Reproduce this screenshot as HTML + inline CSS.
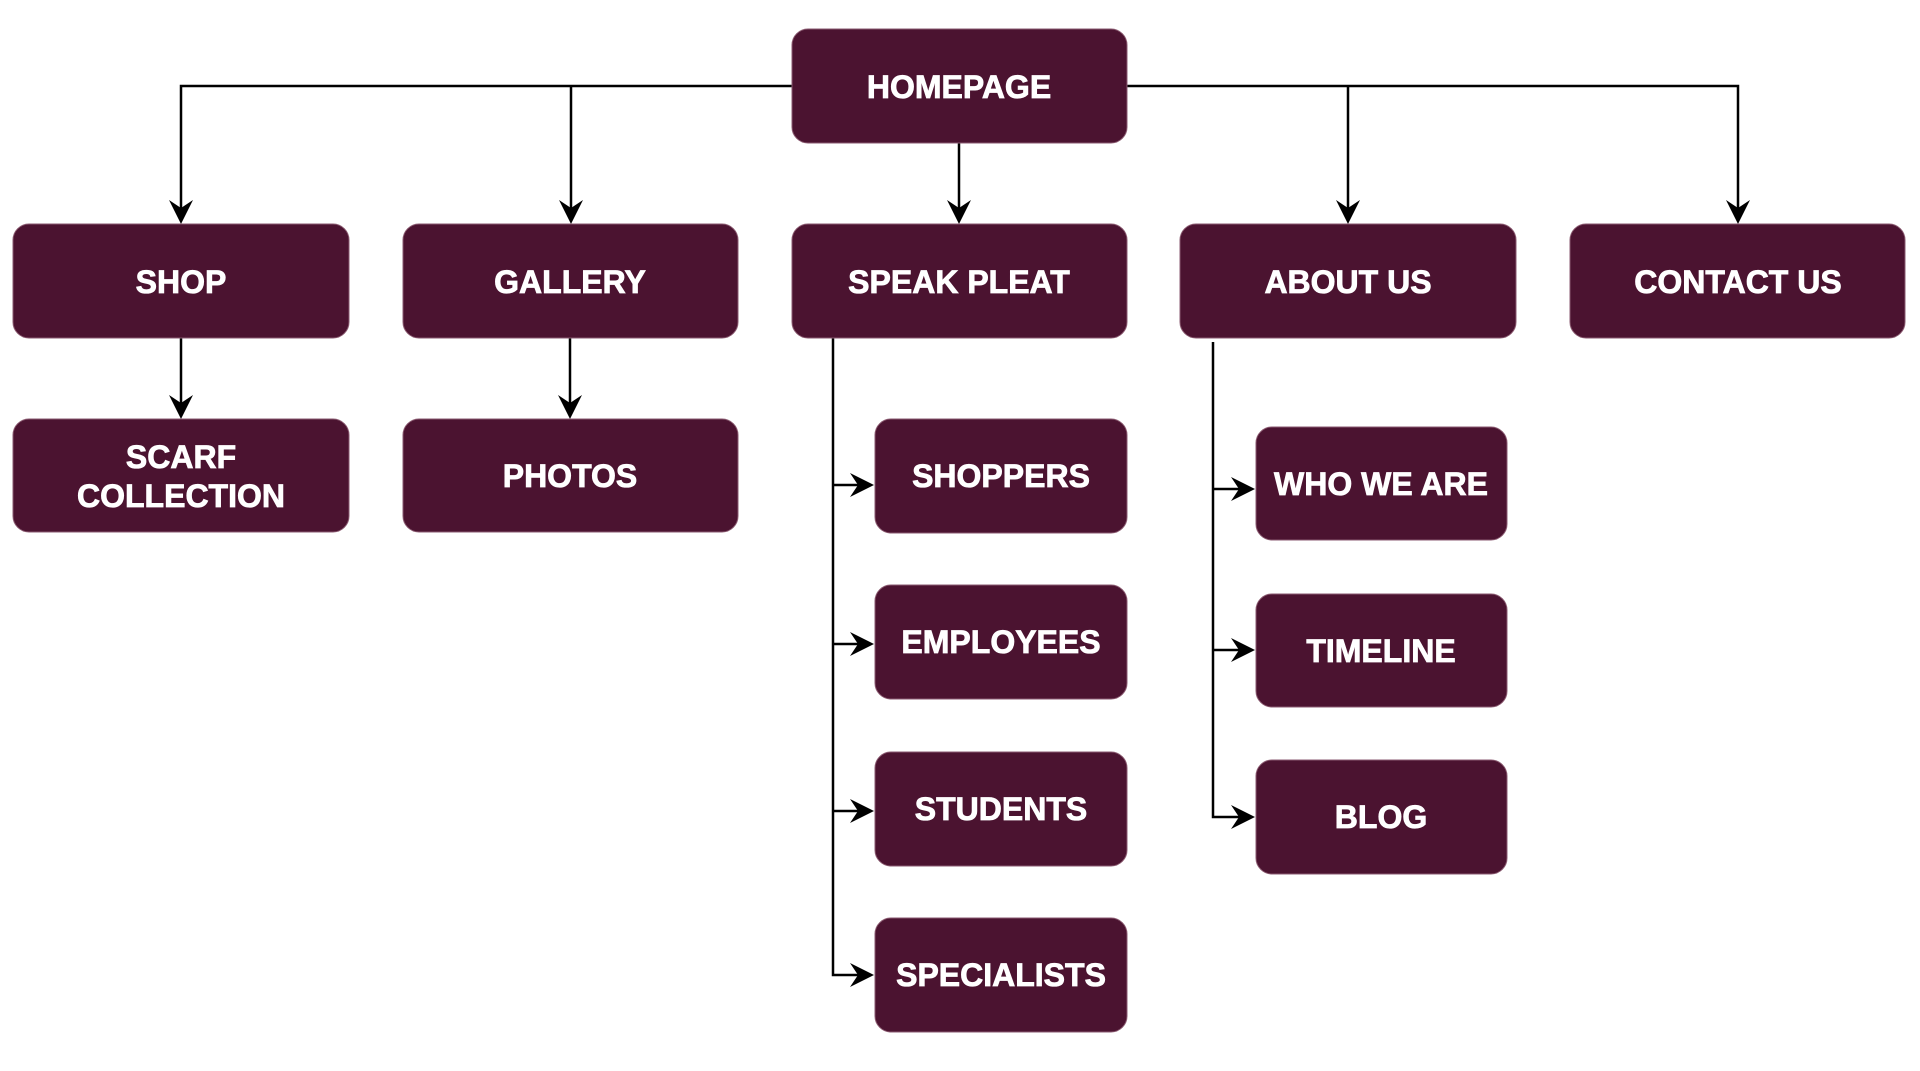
<!DOCTYPE html>
<html><head><meta charset="utf-8"><style>
html,body{margin:0;padding:0;background:#fff;}
svg{display:block;}
text{font-family:"Liberation Sans",Arial,sans-serif;font-weight:bold;font-size:32px;fill:#fff;stroke:#fff;stroke-width:0.8;text-anchor:middle;}
</style></head><body>
<svg width="1920" height="1071" viewBox="0 0 1920 1071" xmlns="http://www.w3.org/2000/svg">
<g stroke="#000" stroke-width="2.5" fill="none">
<path d="M792 86 H181 V210"/>
<path d="M571 86 V210"/>
<path d="M1127 86 H1738 V210"/>
<path d="M1348 86 V210"/>
<path d="M959 143 V210"/>
<path d="M181 338 V405"/>
<path d="M570 338 V405"/>
<path d="M833 338 V975 H860"/>
<path d="M833 485 H860"/>
<path d="M833 644 H860"/>
<path d="M833 811 H860"/>
<path d="M1213 342 V817 H1241"/>
<path d="M1213 489 H1241"/>
<path d="M1213 650 H1241"/>
</g>
<g fill="#000">
<path d="M181 224 L169 200 L181 208 L193 200 Z"/>
<path d="M571 224 L559 200 L571 208 L583 200 Z"/>
<path d="M959 224 L947 200 L959 208 L971 200 Z"/>
<path d="M1348 224 L1336 200 L1348 208 L1360 200 Z"/>
<path d="M1738 224 L1726 200 L1738 208 L1750 200 Z"/>
<path d="M181 419 L169 395 L181 403 L193 395 Z"/>
<path d="M570 419 L558 395 L570 403 L582 395 Z"/>
<path d="M874 485 L850 473 L858 485 L850 497 Z"/>
<path d="M874 644 L850 632 L858 644 L850 656 Z"/>
<path d="M874 811 L850 799 L858 811 L850 823 Z"/>
<path d="M874 975 L850 963 L858 975 L850 987 Z"/>
<path d="M1255 489 L1231 477 L1239 489 L1231 501 Z"/>
<path d="M1255 650 L1231 638 L1239 650 L1231 662 Z"/>
<path d="M1255 817 L1231 805 L1239 817 L1231 829 Z"/>
</g>
<g fill="#4b1330" stroke="#8a5a70" stroke-width="1">
<rect x="792" y="29" width="335" height="114" rx="16"/>
<rect x="13" y="224" width="336" height="114" rx="16"/>
<rect x="403" y="224" width="335" height="114" rx="16"/>
<rect x="792" y="224" width="335" height="114" rx="16"/>
<rect x="1180" y="224" width="336" height="114" rx="16"/>
<rect x="1570" y="224" width="335" height="114" rx="16"/>
<rect x="13" y="419" width="336" height="113" rx="16"/>
<rect x="403" y="419" width="335" height="113" rx="16"/>
<rect x="875" y="419" width="252" height="114" rx="16"/>
<rect x="875" y="585" width="252" height="114" rx="16"/>
<rect x="875" y="752" width="252" height="114" rx="16"/>
<rect x="875" y="918" width="252" height="114" rx="16"/>
<rect x="1256" y="427" width="251" height="113" rx="16"/>
<rect x="1256" y="594" width="251" height="113" rx="16"/>
<rect x="1256" y="760" width="251" height="114" rx="16"/>
</g>
<text x="959" y="98">HOMEPAGE</text>
<text x="181" y="293">SHOP</text>
<text x="570" y="293">GALLERY</text>
<text x="959" y="293">SPEAK PLEAT</text>
<text x="1348" y="293">ABOUT US</text>
<text x="1738" y="293">CONTACT US</text>
<text x="181" y="468">SCARF</text>
<text x="181" y="507">COLLECTION</text>
<text x="570" y="487">PHOTOS</text>
<text x="1001" y="487">SHOPPERS</text>
<text x="1001" y="653">EMPLOYEES</text>
<text x="1001" y="820">STUDENTS</text>
<text x="1001" y="986">SPECIALISTS</text>
<text x="1381" y="495">WHO WE ARE</text>
<text x="1381" y="662">TIMELINE</text>
<text x="1381" y="828">BLOG</text>
</svg>
</body></html>
